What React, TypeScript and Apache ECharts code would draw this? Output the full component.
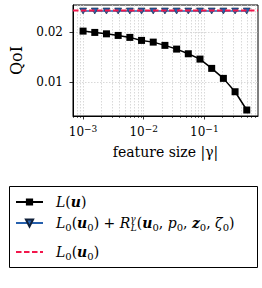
import React, { useEffect, useRef } from 'react';
import * as echarts from 'echarts';

// feature size |gamma| (x values)
const featureSize = [0.001, 0.001559, 0.00243, 0.003789, 0.005906, 0.009204, 0.014345, 0.02236, 0.03485, 0.05433, 0.08469, 0.132, 0.2058, 0.3208, 0.5];
// L(u)
const qoiFull = [0.0202, 0.01994, 0.01966, 0.01934, 0.01895, 0.01835, 0.01801, 0.01736, 0.01662, 0.01569, 0.01463, 0.01278, 0.01079, 0.00813, 0.00449];
// L0(u0) + R_L^gamma(...)
const qoiApprox = [0.0242, 0.0242, 0.0242, 0.0242, 0.0242, 0.0242, 0.0242, 0.0242, 0.0242, 0.0242, 0.0242, 0.0242, 0.0242, 0.0242, 0.0242];
// L0(u0) (horizontal reference level)
const qoiRef = [0.0243, 0.0243];

const xMajorTicks = [0.001, 0.01, 0.1];
const xMinorTicks = [0.0007, 0.0008, 0.0009, 0.002, 0.003, 0.004, 0.005, 0.006, 0.007, 0.008, 0.009, 0.02, 0.03, 0.04, 0.05, 0.06, 0.07, 0.08, 0.09, 0.2, 0.3, 0.4, 0.5, 0.6, 0.7];
const yTicks = [0.01, 0.02];

const X_MIN = 0.000682;
const X_MAX = 0.766;
const Y_MIN = 0.0033;
const Y_MAX = 0.0254;

const FONT = 'DejaVu Serif';
const BLACK = '#000000';
const BLUE = '#2660ad';
const RED = '#f2164b';
const GRID = '#cfcfcf';

const nameFull = 'L(u)';
const nameApprox = 'L0(u0) + RLγ(u0, p0, z0, ζ0)';
const nameRef = 'L0(u0)';

const legendRich: Record<string, string> = {
  [nameFull]: '{g| }{i|L}{n|(}{b|u}{n|)}',
  [nameApprox]: '{g| }{i|L}{s|0}{n|(}{b|u}{s|0}{n|) + }{i|R}{sp|γ}{si|L}{n|(}{b|u}{s|0}{n|, }{i|p}{s|0}{n|, }{b|z}{s|0}{n|, }{i|ζ}{s|0}{n|)}',
  [nameRef]: '{g| }{i|L}{s|0}{n|(}{b|u}{s|0}{n|)}',
};

const LFS = 14;
const LLH = 18;
const rich = {
  g: { width: 8, fontSize: LFS, lineHeight: LLH },
  n: { fontFamily: FONT, fontSize: LFS, lineHeight: LLH, color: BLACK },
  i: { fontFamily: FONT, fontSize: LFS, lineHeight: LLH, fontStyle: 'italic', color: BLACK },
  b: { fontFamily: FONT, fontSize: LFS, lineHeight: LLH, fontStyle: 'italic', fontWeight: 'bold', color: BLACK },
  s: { fontFamily: FONT, fontSize: 10, lineHeight: 10, verticalAlign: 'bottom', color: BLACK },
  si: { fontFamily: FONT, fontSize: 9, lineHeight: 8, verticalAlign: 'bottom', fontStyle: 'italic', color: BLACK },
  sp: { fontFamily: FONT, fontSize: 9, lineHeight: 8, verticalAlign: 'top', fontStyle: 'italic', color: BLACK, width: 0.5 },
};

function makeLegend(name: string, top: number, noSymbol = false) {
  return {
    data: [noSymbol ? { name, itemStyle: { color: 'transparent', borderColor: 'transparent', borderWidth: 0 } } : name],
    left: 15,
    top,
    orient: 'vertical',
    padding: 0,
    itemWidth: 27,
    itemHeight: 9,
    selectedMode: false,
    formatter: (n: string) => legendRich[n],
    textStyle: { fontFamily: FONT, fontSize: LFS, color: BLACK, rich },
  };
}

export default function App() {
  const ref = useRef<HTMLDivElement>(null);
  useEffect(() => {
    if (!ref.current) return;
    const chart = echarts.init(ref.current, undefined, { renderer: 'svg' });
    const lgX = (v: number) => Math.log10(v);
    const baseValueAxis = {
      type: 'value',
      position: 'bottom',
      min: lgX(X_MIN),
      max: lgX(X_MAX),
      gridIndex: 0,
      scale: true,
    };
    chart.setOption({
      animation: false,
      backgroundColor: '#ffffff',
      grid: { left: 63, right: 4, top: 5, bottom: 172, show: true, borderColor: BLACK, borderWidth: 1, backgroundColor: 'transparent' },
      xAxis: [
        {
          type: 'log',
          position: 'bottom',
          min: X_MIN,
          max: X_MAX,
          axisLine: { show: false },
          axisTick: { show: false },
          axisLabel: { show: false },
          splitLine: { show: false },
        },
        {
          ...baseValueAxis,
          axisLine: { show: true, lineStyle: { color: BLACK, width: 1 } },
          axisTick: { show: true, length: 3.5, inside: false, customValues: xMajorTicks.map(lgX), lineStyle: { color: BLACK, width: 0.8 } },
          axisLabel: {
            show: true,
            customValues: xMajorTicks.map(lgX),
            margin: 8,
            formatter: (v: number) => `{b|10}{e|−${Math.abs(Math.round(v))}}`,
            rich: {
              b: { fontFamily: FONT, fontSize: 12, lineHeight: 16, color: BLACK },
              e: { fontFamily: FONT, fontSize: 9, lineHeight: 9, verticalAlign: 'top', color: BLACK },
            },
          },
          splitLine: { show: true, lineStyle: { color: GRID, type: [1.5, 1.5], width: 0.8 } },
          name: 'feature size |γ|',
          nameLocation: 'middle',
          nameGap: 29,
          nameTextStyle: { fontFamily: FONT, fontSize: 14, color: BLACK },
        },
        {
          ...baseValueAxis,
          axisLine: { show: false },
          axisTick: { show: true, length: 2, inside: false, customValues: xMinorTicks.map(lgX), lineStyle: { color: BLACK, width: 0.6 } },
          axisLabel: { show: false },
          splitLine: { show: true, lineStyle: { color: GRID, type: [1.5, 1.5], width: 0.8 } },
        },
      ],
      yAxis: {
        type: 'value',
        position: 'left',
        min: Y_MIN,
        max: Y_MAX,
        axisLine: { show: true, lineStyle: { color: BLACK, width: 1 } },
        axisTick: { show: true, length: 3.5, inside: false, customValues: yTicks, lineStyle: { color: BLACK, width: 0.8 } },
        axisLabel: {
          customValues: yTicks,
          margin: 10,
          formatter: (v: number) => v.toFixed(2),
          fontFamily: FONT,
          fontSize: 12,
          color: BLACK,
        },
        splitLine: { show: true, lineStyle: { color: GRID, type: [1.5, 1.5], width: 0.8 } },
        name: 'QoI',
        nameLocation: 'middle',
        nameGap: 49,
        nameTextStyle: { fontFamily: FONT, fontSize: 16, color: BLACK },
      },
      legend: [makeLegend(nameFull, 195), makeLegend(nameApprox, 214), makeLegend(nameRef, 245, true)],
      graphic: [
        {
          type: 'rect',
          shape: { x: 9.5, y: 186.5, width: 248, height: 81 },
          style: { fill: 'none', stroke: BLACK, lineWidth: 1 },
          silent: true,
        },
      ],
      series: [
        {
          name: nameFull,
          type: 'line',
          xAxisIndex: 0,
          data: featureSize.map((x, i) => [x, qoiFull[i]]),
          symbol: 'rect',
          symbolSize: 7,
          itemStyle: { color: BLACK },
          lineStyle: { color: BLACK, width: 1.5 },
          z: 2,
        },
        {
          name: nameApprox,
          type: 'line',
          xAxisIndex: 0,
          data: featureSize.map((x, i) => [x, qoiApprox[i]]),
          symbol: 'triangle',
          symbolRotate: 180,
          symbolSize: [7, 6],
          itemStyle: { color: BLUE, borderColor: '#10203a', borderWidth: 0.6 },
          lineStyle: { color: BLUE, width: 1.5 },
          z: 3,
        },
        {
          name: nameRef,
          type: 'line',
          xAxisIndex: 0,
          data: [[X_MIN, qoiRef[0]], [X_MAX, qoiRef[1]]],
          symbol: 'none',
          showSymbol: false,
          itemStyle: { color: RED },
          lineStyle: { color: RED, width: 1.8, type: [5.5, 2.5] },
          z: 4,
        },
      ],
    });
    return () => chart.dispose();
  }, []);
  return <div ref={ref} style={{ position: 'fixed', left: 0, top: 0, width: 262, height: 288, background: '#fff' }} />;
}
